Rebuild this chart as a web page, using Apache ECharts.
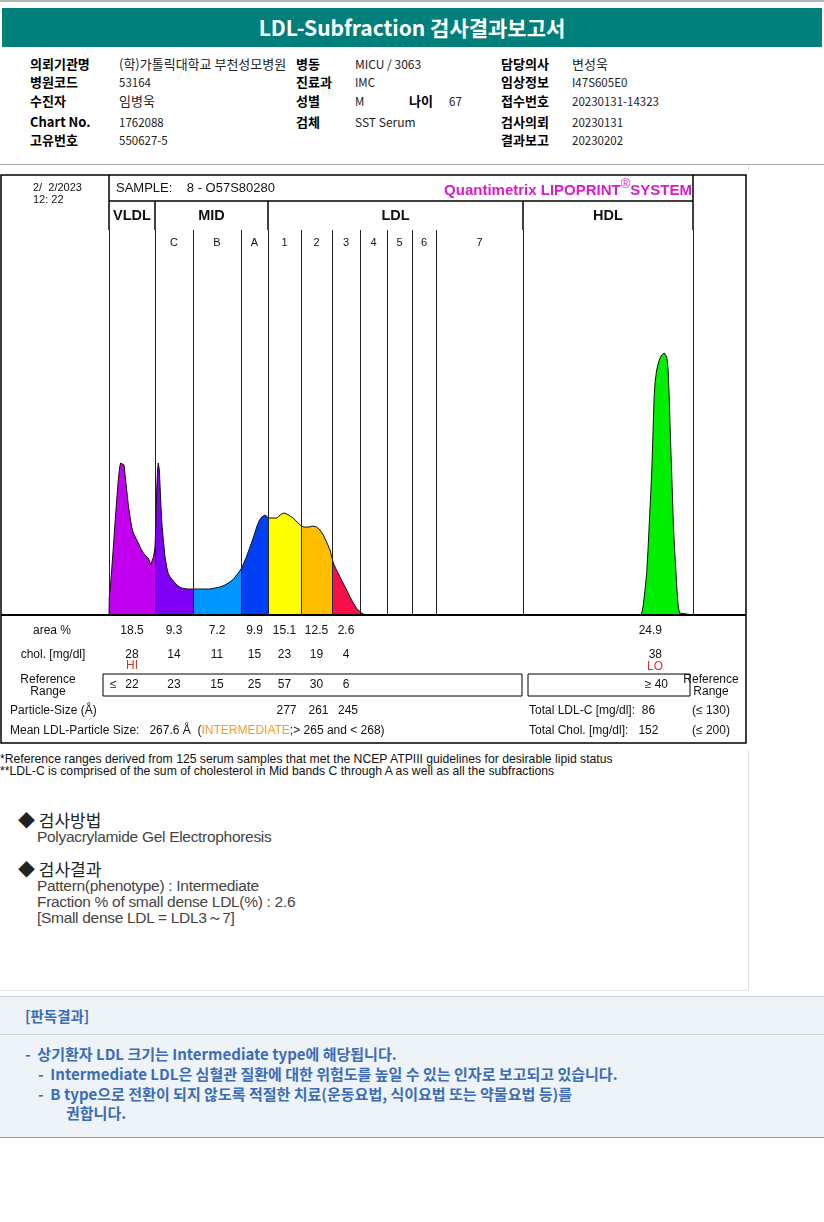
<!DOCTYPE html>
<html>
<head>
<meta charset="utf-8">
<script src="https://cdn.jsdelivr.net/npm/echarts@6/dist/echarts.min.js"></script>
<style>
  html,body{margin:0;padding:0;}
  body{width:824px;height:1222px;position:relative;background:#fff;overflow:hidden;font-family:'Noto Sans CJK KR','Noto Sans',sans-serif;}
  .t{position:absolute;white-space:nowrap;height:18px;line-height:18px;}
  .lb{font-weight:700;font-size:13px;color:#000;}
  .vl{font-size:11.5px;color:#222;}
  .vk{font-size:13px;color:#222;}
  .fn{font-family:'Liberation Sans',Arial,sans-serif;font-size:12.2px;color:#111;}
  .h2{font-size:17px;color:#222;}
  .en{font-family:'Liberation Sans',Arial,sans-serif;font-size:15.5px;color:#444;letter-spacing:-0.3px;}
  .bl{font-size:15px;font-weight:700;color:#3c6cb4;}
</style>
</head>
<body>
<div style="position:absolute;left:0;top:0;width:824px;height:2px;background:#b4b4b4"></div>
<div style="position:absolute;left:2px;top:8px;width:820px;height:39px;background:#007f7b;color:#fff;font-weight:700;font-size:21px;line-height:39px;text-align:center;">LDL-Subfraction 검사결과보고서</div>

<!-- info table -->
<div class="t lb" style="left:30px;top:55px">의뢰기관명</div>
<div class="t vk" style="left:119px;top:55px">(학)가톨릭대학교 부천성모병원</div>
<div class="t lb" style="left:296px;top:55px">병동</div>
<div class="t vl" style="left:355px;top:55px;font-size:12px">MICU / 3063</div>
<div class="t lb" style="left:501px;top:55px">담당의사</div>
<div class="t vk" style="left:572px;top:55px">변성욱</div>

<div class="t lb" style="left:30px;top:73px">병원코드</div>
<div class="t vl" style="left:119px;top:73px">53164</div>
<div class="t lb" style="left:296px;top:73px">진료과</div>
<div class="t vl" style="left:355px;top:73px">IMC</div>
<div class="t lb" style="left:501px;top:73px">임상정보</div>
<div class="t vl" style="left:572px;top:73px">I47S605E0</div>

<div class="t lb" style="left:30px;top:92px">수진자</div>
<div class="t vk" style="left:119px;top:92px">임병욱</div>
<div class="t lb" style="left:296px;top:92px">성별</div>
<div class="t vl" style="left:355px;top:92px">M</div>
<div class="t lb" style="left:409px;top:92px">나이</div>
<div class="t vl" style="left:449px;top:92px">67</div>
<div class="t lb" style="left:501px;top:92px">접수번호</div>
<div class="t vl" style="left:572px;top:92px">20230131-14323</div>

<div class="t lb" style="left:30px;top:113px">Chart No.</div>
<div class="t vl" style="left:119px;top:113px">1762088</div>
<div class="t lb" style="left:296px;top:113px">검체</div>
<div class="t vl" style="left:355px;top:113px;font-size:12px">SST Serum</div>
<div class="t lb" style="left:501px;top:113px">검사의뢰</div>
<div class="t vl" style="left:572px;top:113px">20230131</div>

<div class="t lb" style="left:30px;top:131px">고유번호</div>
<div class="t vl" style="left:119px;top:131px">550627-5</div>
<div class="t lb" style="left:501px;top:131px">결과보고</div>
<div class="t vl" style="left:572px;top:131px">20230202</div>

<div style="position:absolute;left:0;top:164px;width:824px;height:1px;background:#a8a8a8"></div>
<div style="position:absolute;left:748px;top:165px;width:1px;height:825px;background:#e2e2e2"></div>
<div style="position:absolute;left:0;top:990px;width:749px;height:1px;background:#e6e6e6"></div>

<div id="chart" style="position:absolute;left:0;top:170px;width:750px;height:580px;"></div>

<div class="t fn" style="left:0;top:750px">*Reference ranges derived from 125 serum samples that met the NCEP ATPIII guidelines for desirable lipid status</div>
<div class="t fn" style="left:0;top:762px">**LDL-C is comprised of the sum of cholesterol in Mid bands C through A as well as all the subfractions</div>

<div class="t h2" style="left:18px;top:810px;height:20px;line-height:20px">◆ 검사방법</div>
<div class="t en" style="left:37px;top:828px">Polyacrylamide Gel Electrophoresis</div>
<div class="t h2" style="left:18px;top:859px;height:20px;line-height:20px">◆ 검사결과</div>
<div class="t en" style="left:37px;top:877px">Pattern(phenotype) : Intermediate</div>
<div class="t en" style="left:37px;top:893px">Fraction % of small dense LDL(%) : 2.6</div>
<div class="t en" style="left:37px;top:909px">[Small dense LDL = LDL3～7]</div>

<div style="position:absolute;left:0;top:996px;width:824px;height:140px;background:#eef3f8;border-top:1px solid #d0d8e2;border-bottom:1px solid #9a9a9a;"></div>
<div style="position:absolute;left:0;top:1034px;width:824px;height:1px;background:#c9d3e2"></div>
<div class="t bl" style="left:25px;top:1007px;font-size:14.5px">[판독결과]</div>
<div class="t bl" style="left:25px;top:1045px">-&nbsp; 상기환자 LDL 크기는 Intermediate type에 해당됩니다.</div>
<div class="t bl" style="left:38px;top:1065px">-&nbsp; Intermediate LDL은 심혈관 질환에 대한 위험도를 높일 수 있는 인자로 보고되고 있습니다.</div>
<div class="t bl" style="left:38px;top:1085px">-&nbsp; B type으로 전환이 되지 않도록 적절한 치료(운동요법, 식이요법 또는 약물요법 등)를</div>
<div class="t bl" style="left:66px;top:1104px">권합니다.</div>

<script>
// ---------- data ----------
// band boundaries along the gel (mobility units)
const boundaries = [0, 46, 84, 132, 159, 192, 223, 251, 278, 303, 327, 414, 584];
const majorBoundaryIdx = [0, 1, 4, 11, 12];
const groupNames = ['VLDL', 'MID', 'LDL', 'HDL'];
const groupSpans = [[0, 1], [1, 4], [4, 11], [11, 12]];
const subLabels = ['C', 'B', 'A', '1', '2', '3', '4', '5', '6', '7'];
const bandColors = ['#c000ee', '#8000f6', '#0096ff', '#0040f2', '#ffff00', '#ffbf00', '#f5104a', '#f5104a', '#f5104a', '#f5104a', '#f5104a', '#00ee00'];

// densitometry profile: [mobility, intensity]
const profile = [
  [0,0],[0.3,18],[1.5,30],[2.7,45],[4.5,70],[6,92],[7.7,115],[9.3,135],[10.7,148],[11.7,152],[13.3,154],[15,150],
  [16.3,138],[17.7,125],[19.3,110],[21,98],[22.7,88],[24.3,82],[26.7,77],[29.3,72],[32,66],[34.3,62],[37,59],
  [39.3,57],[41.7,50],[43,54],[44.5,58],[46,68],[47,95],[47.7,125],[48.5,145],[49.3,152],[50.3,145],[51,130],
  [52,108],[53,90],[54.3,75],[56,58],[57.7,48],[59,42],[61,38],[63.5,35],[66,32],[69,29],[72.7,27],[78,26],
  [83.7,26],[92,26],[101,26],[106,27],[111,28],[116,30],[121,33],[124.5,36],[127.7,40],[130,43],[132.7,47],
  [137,57],[141,68],[144.5,78],[147.7,88],[150,94],[152.7,98],[154.5,100],[156,100],[158,98],[159.7,97],
  [164,97],[167.7,97],[170,99],[172.7,101],[175,102],[177.7,101],[181,99],[184.3,97],[188,93],[192.3,89],
  [195,88],[200,88],[204,89],[207.7,88],[211,85],[214.3,80],[218,72],[221,65],[222.8,58],[224.3,52],[227,46],
  [231,38],[234,32],[237.7,25],[241,18],[244.3,12],[248,6],[252.7,2],[256,0],
  [532,0],[533,3],[534.3,10],[536,25],[537.7,42],[539,65],[540.3,92],[541.5,117],[542.7,142],[543.5,167],
  [544.3,192],[545,215],[546,232],[547.5,244],[549.3,252],[551,257],[552.7,260],[554,262],[555.3,262],
  [556.5,261],[557.7,258],[558.5,252],[559.3,242],[560.2,218],[561,192],[561.8,167],[562.7,142],[563.5,117],
  [564.3,92],[565.5,67],[567,42],[568,24],[569.3,8],[570.5,2],[571,0],[584,0]
];

// result table (bands VLDL, C, B, A, LDL1, LDL2, LDL3)
const areaPct = [18.5, 9.3, 7.2, 9.9, 15.1, 12.5, 2.6];
const cholMg = [28, 14, 11, 15, 23, 19, 4];
const refMax = [22, 23, 15, 25, 57, 30, 6];
const particleSize = [null, null, null, null, 277, 261, 245];
const flags = ['HI', '', '', '', '', '', ''];
const hdlArea = 24.9, hdlChol = 38, hdlRefMin = 40, hdlFlag = 'LO', hdlLabelPos = 553;
const meanParticleSize = 267.6, totalLdlC = 86, totalChol = 152;
const ldlCRef = 130, cholRef = 200;

// ---------- chart ----------
const F = "'Liberation Sans', Arial, sans-serif";
const chart = echarts.init(document.getElementById('chart'));
const pieces = bandColors.map((c, i) => ({ gte: boundaries[i], lt: i === bandColors.length - 1 ? boundaries[i + 1] + 1 : boundaries[i + 1], color: c }));

chart.setOption({
  animation: false,
  backgroundColor: '#fff',
  grid: { left: 109, top: 60, width: 584, height: 385 },
  xAxis: { type: 'value', min: 0, max: 584, show: false },
  yAxis: { type: 'value', min: 0, max: 385, show: false },
  visualMap: { type: 'piecewise', show: false, dimension: 0, seriesIndex: 0, pieces: pieces },
  series: [
    { type: 'line', data: profile, symbol: 'none', silent: true, z: 2,
      lineStyle: { width: 0 }, areaStyle: { opacity: 1 } },
    { type: 'line', data: profile, symbol: 'none', silent: true, z: 3,
      lineStyle: { width: 1, color: '#111' }, itemStyle: { color: '#111' },
      markLine: { symbol: 'none', silent: true, label: { show: false },
        lineStyle: { color: '#222', width: 1, type: 'solid' },
        data: boundaries.map(b => ({ xAxis: b })) } }
  ]
});

const px = v => chart.convertToPixel({ xAxisIndex: 0 }, v);
function T(x, y, text, o) {
  o = o || {};
  return { type: 'text', x: x, y: y, silent: true, z: 10,
    style: { text: text, align: o.align || 'center', verticalAlign: 'middle', fill: o.fill || '#111',
      fontSize: o.size || 12, fontWeight: o.bold ? 'bold' : 'normal', fontFamily: F, rich: o.rich } };
}
function L(x1, y1, x2, y2, w, c) {
  return { type: 'line', silent: true, z: 5, shape: { x1: x1, y1: y1, x2: x2, y2: y2 }, style: { stroke: c || '#000', lineWidth: w || 1 } };
}
const g = [];
// frame
g.push({ type: 'rect', silent: true, z: 5, shape: { x: 1, y: 5, width: 745, height: 568 }, style: { fill: null, stroke: '#000', lineWidth: 1.5 } });
g.push(L(px(boundaries[0]), 31, px(boundaries[12]), 31, 1.5));
g.push(L(1, 445, 746, 445, 2));
majorBoundaryIdx.forEach(i => {
  const top = (i === 0 || i === 12) ? 5 : 31;
  g.push(L(px(boundaries[i]), top, px(boundaries[i]), 60, 1.5));
});
// header texts
g.push(T(33, 18, '2/  2/2023', { align: 'left', size: 11 }));
g.push(T(33, 30, '12: 22', { align: 'left', size: 11 }));
g.push(T(116, 18, 'SAMPLE:    8 - O57S80280', { align: 'left', size: 13 }));
g.push(T(692, 18, '{a|Quantimetrix LIPOPRINT}{b|®}{a|SYSTEM}', { align: 'right', rich: {
  a: { fontSize: 15, fontWeight: 'bold', fill: '#d81bc8', fontFamily: F, verticalAlign: 'bottom', lineHeight: 20 },
  b: { fontSize: 13, fill: '#d81bc8', fontFamily: F, verticalAlign: 'top', lineHeight: 20 } } }));
groupSpans.forEach((s, i) => {
  g.push(T(px((boundaries[s[0]] + boundaries[s[1]]) / 2), 46, groupNames[i], { bold: true, size: 14.5 }));
});
subLabels.forEach((lab, i) => {
  g.push(T(px((boundaries[i + 1] + boundaries[i + 2]) / 2), 73, lab, { size: 11 }));
});
// table
g.push(T(52, 461, 'area %'));
g.push(T(53, 485, 'chol. [mg/dl]'));
g.push(T(48, 510, 'Reference'));
g.push(T(48, 522, 'Range'));
g.push({ type: 'rect', silent: true, z: 5, shape: { x: 103, y: 504, width: 419, height: 22 }, style: { fill: null, stroke: '#000', lineWidth: 1 } });
g.push({ type: 'rect', silent: true, z: 5, shape: { x: 528, y: 504, width: 162, height: 22 }, style: { fill: null, stroke: '#000', lineWidth: 1 } });
g.push(T(110, 515, '≤', { align: 'left' }));
areaPct.forEach((v, i) => {
  const cx = px((boundaries[i] + boundaries[i + 1]) / 2);
  g.push(T(cx, 461, v.toFixed(1)));
  g.push(T(cx, 485, String(cholMg[i])));
  if (flags[i]) g.push(T(cx, 496, flags[i], { fill: '#d03a2a' }));
  g.push(T(cx, 515, String(refMax[i])));
  if (particleSize[i] != null) g.push(T(cx + 2, 541, String(particleSize[i])));
});
const hx = px(hdlLabelPos);
g.push(T(hx, 461, hdlArea.toFixed(1), { align: 'right' }));
g.push(T(hx, 485, String(hdlChol), { align: 'right' }));
g.push(T(hx - 7, 497, hdlFlag, { fill: '#d03a2a' }));
g.push(T(hx + 6, 515, '≥ ' + hdlRefMin, { align: 'right' }));
g.push(T(711, 510, 'Reference'));
g.push(T(711, 522, 'Range'));
g.push(T(10, 541, 'Particle-Size (Å)', { align: 'left' }));
g.push(T(10, 561, '{n|Mean LDL-Particle Size:   ' + meanParticleSize.toFixed(1) + ' Å  (}{o|INTERMEDIATE}{n|;> 265 and < 268)}', { align: 'left', rich: {
  n: { fontSize: 12, fill: '#111', fontFamily: F }, o: { fontSize: 12, fill: '#f0a020', fontFamily: F } } }));
g.push(T(529, 541, 'Total LDL-C [mg/dl]:  ' + totalLdlC, { align: 'left' }));
g.push(T(529, 561, 'Total Chol. [mg/dl]:   ' + totalChol, { align: 'left' }));
g.push(T(711, 541, '(≤ ' + ldlCRef + ')'));
g.push(T(711, 561, '(≤ ' + cholRef + ')'));

chart.setOption({ graphic: g });
</script>
</body>
</html>
